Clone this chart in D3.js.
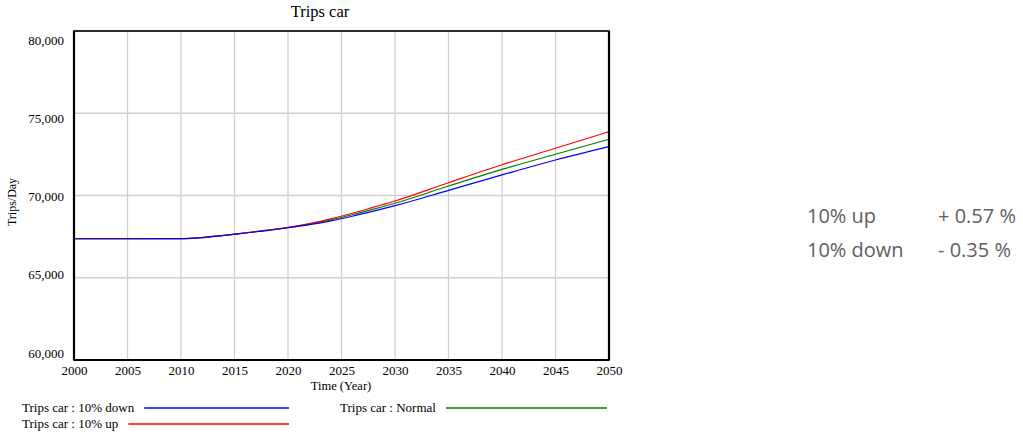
<!DOCTYPE html>
<html>
<head>
<meta charset="utf-8">
<script src="https://cdn.jsdelivr.net/npm/d3@7"></script>
<style>
  body { margin: 0; background: #fff; }
  svg { display: block; }
</style>
</head>
<body>
<svg id="chart"></svg>
<script>
// values (Trips/Day)
const years = [2000, 2005, 2010, 2012, 2014, 2016, 2018, 2020, 2022, 2024, 2026, 2028, 2030, 2035, 2040, 2045, 2050];
const tripsDown = [67370, 67370, 67380, 67440, 67570, 67720, 67870, 68040, 68230, 68460, 68740, 69050, 69380, 70310, 71250, 72160, 72970];
const tripsUp = [67370, 67370, 67380, 67450, 67580, 67730, 67890, 68060, 68290, 68580, 68920, 69290, 69666, 70778, 71870, 72870, 73880];
const tripsNormal = [67370, 67370, 67380, 67445, 67575, 67725, 67880, 68050, 68260, 68520, 68830, 69170, 69526, 70578, 71590, 72505, 73420];
const yTicks = [60000, 65000, 70000, 75000, 80000];
const xTicks = [2000, 2005, 2010, 2015, 2020, 2025, 2030, 2035, 2040, 2045, 2050];
const seriesNames = ["Trips car : 10% down", "Trips car : 10% up", "Trips car : Normal"];
const seriesColors = ["#0000ff", "#ff0000", "#008000"];
const sensLabels = ["10% up", "10% down"];
const sensValues = ["+ 0.57 %", "- 0.35 %"];

const width = 1023, height = 434;
const svg = d3.select("#chart").attr("width", width).attr("height", height);

const pLeft = 74, pRight = 609, pTop = 31, pBottom = 360;
const x = d3.scaleLinear().domain([2000, 2050]).range([pLeft, pRight]);
const y = d3.scaleLinear().domain([60000, 80000]).range([pBottom, pTop]);
// vensim spreads the value labels a bit inside the frame
const yLab = d3.scaleLinear().domain([60000, 80000]).range([353, 40]);

const serif = "'Liberation Serif', 'Times New Roman', serif";

// grid
svg.append("g")
  .selectAll("line")
  .data(xTicks)
  .join("line")
  .attr("x1", d => x(d)).attr("x2", d => x(d))
  .attr("y1", pTop).attr("y2", pBottom)
  .attr("stroke", "#d0d0d0").attr("stroke-width", 1.3);
svg.append("g")
  .selectAll("line")
  .data(yTicks)
  .join("line")
  .attr("x1", pLeft).attr("x2", pRight)
  .attr("y1", d => y(d)).attr("y2", d => y(d))
  .attr("stroke", "#d0d0d0").attr("stroke-width", 1.3);

// series
const seriesData = [tripsNormal, tripsUp, tripsDown];
const seriesCol = [seriesColors[2], seriesColors[1], seriesColors[0]];
const line = d3.line()
  .x((d, i) => x(years[i]))
  .y(d => y(d))
  .curve(d3.curveMonotoneX);
svg.append("g")
  .selectAll("path")
  .data(seriesData)
  .join("path")
  .attr("d", d => line(d))
  .attr("fill", "none")
  .attr("stroke", (d, i) => seriesCol[i])
  .attr("stroke-width", 1.2);

// frame
svg.append("rect")
  .attr("x", pLeft).attr("y", pTop)
  .attr("width", pRight - pLeft).attr("height", pBottom - pTop)
  .attr("fill", "none").attr("stroke", "#000").attr("stroke-width", 1.6);
svg.append("line")
  .attr("x1", pLeft).attr("x2", pRight).attr("y1", pBottom).attr("y2", pBottom)
  .attr("stroke", "#000").attr("stroke-width", 2.2);
svg.append("line")
  .attr("x1", pLeft).attr("x2", pLeft).attr("y1", pTop).attr("y2", pBottom)
  .attr("stroke", "#000").attr("stroke-width", 2.2);
svg.append("line")
  .attr("x1", pRight).attr("x2", pRight).attr("y1", pTop).attr("y2", pBottom)
  .attr("stroke", "#000").attr("stroke-width", 2.2);

// y labels
const yAxis = d3.axisLeft(yLab).tickValues(yTicks).tickSize(0).tickPadding(0)
  .tickFormat(d3.format(","));
svg.append("g")
  .attr("transform", "translate(64,0)")
  .call(yAxis)
  .call(g => g.select(".domain").remove())
  .selectAll("text")
  .attr("font-family", serif).attr("font-size", 13).attr("fill", "#000");

// x labels
const xAxis = d3.axisBottom(x).tickValues(xTicks).tickSize(0).tickPadding(0)
  .tickFormat(d3.format("d"));
svg.append("g")
  .attr("transform", "translate(0,366)")
  .call(xAxis)
  .call(g => g.select(".domain").remove())
  .selectAll("text")
  .attr("font-family", serif).attr("font-size", 13).attr("fill", "#000");

// titles
svg.append("text")
  .attr("x", 320).attr("y", 17)
  .attr("text-anchor", "middle")
  .attr("font-family", serif).attr("font-size", 16.5)
  .text("Trips car");
svg.append("text")
  .attr("x", 341).attr("y", 390)
  .attr("text-anchor", "middle")
  .attr("font-family", serif).attr("font-size", 12.5)
  .text("Time (Year)");
svg.append("text")
  .attr("transform", "translate(16,202) rotate(-90)")
  .attr("text-anchor", "middle")
  .attr("font-family", serif).attr("font-size", 12)
  .text("Trips/Day");

// legend
const legendPos = [
  { x: 22, y: 412, end: 289 },
  { x: 22, y: 428, end: 289 },
  { x: 340, y: 412, end: 607 }
];
const lg = svg.append("g")
  .selectAll("g")
  .data(seriesNames)
  .join("g");
lg.append("text")
  .attr("x", (d, i) => legendPos[i].x)
  .attr("y", (d, i) => legendPos[i].y)
  .attr("font-family", serif).attr("font-size", 13)
  .text(d => d);
lg.append("line")
  .each(function (d, i) {
    const t = this.parentNode.querySelector("text");
    const w = t.getComputedTextLength();
    d3.select(this)
      .attr("x1", legendPos[i].x + w + 10)
      .attr("x2", legendPos[i].end)
      .attr("y1", legendPos[i].y - 4)
      .attr("y2", legendPos[i].y - 4)
      .attr("stroke", seriesColors[i])
      .attr("stroke-width", 1.3);
  });

// sensitivity notes
const sans = "'Open Sans', sans-serif";
sensLabels.forEach((s, i) => {
  svg.append("text")
    .attr("x", 807).attr("y", 223 + i * 33.5)
    .attr("font-family", sans).attr("font-size", 20)
    .attr("fill", "#606060")
    .text(s);
  svg.append("text")
    .attr("x", 938).attr("y", 223 + i * 33.5)
    .attr("font-family", sans).attr("font-size", 20)
    .attr("fill", "#606060")
    .text(sensValues[i]);
});
</script>
</body>
</html>
